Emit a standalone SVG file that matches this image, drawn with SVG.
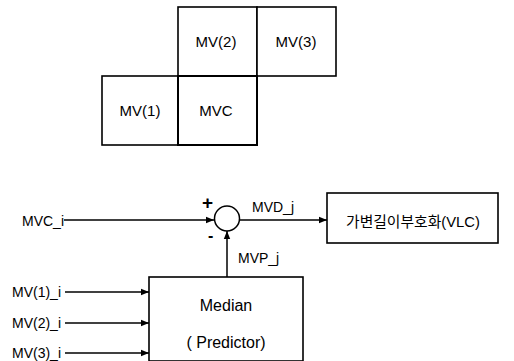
<svg xmlns="http://www.w3.org/2000/svg" width="514" height="361" viewBox="0 0 514 361">
<style>
.box{fill:#fff;stroke:#000;stroke-width:1.6}
.t{font-family:"Liberation Sans",Arial,"Noto Sans CJK KR",sans-serif;font-size:14px;fill:#000}
.g{font-size:15px}
.m{font-size:16px}
.c{text-anchor:middle}
.ln{stroke:#000;stroke-width:1.5;fill:none}
</style>
<defs>
<marker id="ah" viewBox="0 0 10 10" refX="10" refY="5" markerWidth="8" markerHeight="8" markerUnits="userSpaceOnUse" orient="auto">
<path d="M0,1 L10,5 L0,9 z" fill="#000"/>
</marker>
</defs>
<g id="grid">
<g id="mv2"><rect class="box" x="178" y="7" width="79" height="69"/><text class="t g c" x="216" y="47">MV(2)</text></g>
<g id="mv3"><rect class="box" x="257" y="7" width="79" height="69"/><text class="t g c" x="296" y="47">MV(3)</text></g>
<g id="mv1"><rect class="box" x="102" y="76" width="76" height="69"/><text class="t g c" x="140" y="116">MV(1)</text></g>
<g id="mvc"><rect class="box" x="178" y="76" width="79" height="69" style="stroke-width:2"/><text class="t g c" x="216" y="116">MVC</text></g>
</g>
<g id="sum">
<circle cx="227" cy="218.5" r="12.5" fill="#fff" stroke="#000" stroke-width="1.5"/>
<text class="t" x="202" y="209" style="font-size:19px;font-weight:bold">+</text>
<text class="t" x="208" y="241" style="font-size:16px;font-weight:bold">-</text>
</g>
<g id="vlc"><rect class="box" x="327" y="193" width="171" height="50"/><text class="t c" x="413" y="227" style="font-size:14.8px">가변길이부호화(VLC)</text></g>
<g id="median"><rect class="box" x="149" y="277" width="154" height="84"/><text class="t m c" x="226" y="311">Median</text><text class="t m c" x="226" y="348">( Predictor)</text></g>
<g id="labels">
<text class="t" x="22" y="226">MVC_i</text>
<text class="t" x="12" y="297">MV(1)_i</text>
<text class="t" x="12" y="328">MV(2)_i</text>
<text class="t" x="12" y="358">MV(3)_i</text>
<text class="t" x="252" y="212">MVD_j</text>
<text class="t" x="238" y="263">MVP_j</text>
</g>
<g id="connectors">
<line class="ln" x1="64" y1="220" x2="214" y2="220" marker-end="url(#ah)"/>
<line class="ln" x1="240" y1="220" x2="327" y2="220" marker-end="url(#ah)"/>
<line class="ln" x1="227" y1="277" x2="227" y2="231" marker-end="url(#ah)"/>
<line class="ln" x1="65" y1="292" x2="149" y2="292" marker-end="url(#ah)"/>
<line class="ln" x1="65" y1="323" x2="149" y2="323" marker-end="url(#ah)"/>
<line class="ln" x1="65" y1="353" x2="149" y2="353" marker-end="url(#ah)"/>
</g>
</svg>
